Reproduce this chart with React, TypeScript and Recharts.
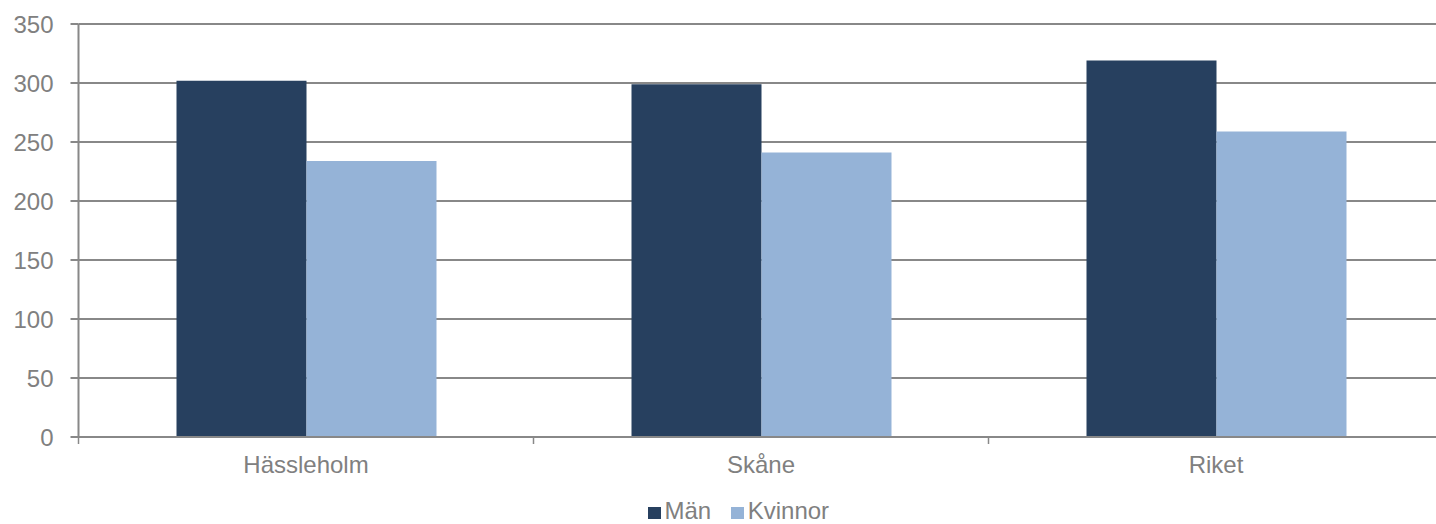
import React from 'react';
import { BarChart, Bar, XAxis, YAxis, CartesianGrid, Legend } from 'recharts';

const categories = ['Hässleholm', 'Skåne', 'Riket'];
const manValues = [302, 299, 319];
const kvinnorValues = [234, 241, 259];
const yTicks = [0, 50, 100, 150, 200, 250, 300, 350];
const boundaryTicks = [0, 1, 2, 3];
const seriesKeys = ['man', 'kvinnor'];
const seriesNames = ['Män', 'Kvinnor'];
const seriesColors = ['#27405F', '#95B3D7'];

const data = categories.map((c, i) => ({
  name: c,
  man: manValues[i],
  kvinnor: kvinnorValues[i],
  idx: i + 0.5,
}));

const FONT = '"Liberation Sans", Arial, sans-serif';
const TEXT = '#808080';
const LINE = '#888888';

const LegendContent = () => {
  return (
    <div style={{ fontFamily: FONT, fontSize: 24, lineHeight: '24px', color: TEXT, whiteSpace: 'nowrap' }}>
      {seriesNames.map((n, i) => (
        <span key={n} style={{ marginRight: i === 0 ? 20 : 0 }}>
          <span
            style={{
              display: 'inline-block',
              width: 12.5,
              height: 12.5,
              background: seriesColors[i],
              marginRight: 4,
              verticalAlign: 'baseline',
            }}
          />
          {n}
        </span>
      ))}
    </div>
  );
};

export default function App() {
  return (
    <div style={{ position: 'absolute', left: 0, top: 0, width: 1436, height: 524, overflow: 'hidden', background: '#fff' }}>
      <BarChart
        width={1443.5}
        height={524}
        data={data}
        margin={{ top: 24, right: 0, bottom: 0, left: 0 }}
        barGap={0}
      >
        <CartesianGrid vertical={false} stroke={LINE} strokeWidth={2} xAxisId="cat" />
        <XAxis
          xAxisId="bound"
          type="number"
          dataKey="idx"
          domain={[0, 3]}
          ticks={boundaryTicks}
          tickFormatter={() => ''}
          height={1}
          tickSize={7}
          axisLine={{ stroke: LINE, strokeWidth: 2 }}
          tickLine={{ stroke: LINE, strokeWidth: 1.5 }}
          interval={0}
          allowDataOverflow
        />
        <XAxis
          xAxisId="cat"
          dataKey="name"
          height={86}
          axisLine={false}
          tickLine={false}
          tickSize={0}
          tickMargin={18}
          tick={{ fill: TEXT, fontSize: 24, fontFamily: FONT }}
        />
        <YAxis
          domain={[0, 350]}
          ticks={yTicks}
          width={78.5}
          tickSize={8}
          tickMargin={17}
          axisLine={{ stroke: LINE, strokeWidth: 2 }}
          tickLine={{ stroke: LINE, strokeWidth: 2 }}
          tick={{ fill: TEXT, fontSize: 24, fontFamily: FONT }}
          interval={0}
        />
        <Legend
          layout="horizontal"
          verticalAlign="middle"
          align="center"
          content={<LegendContent />}
          wrapperStyle={{ top: 499, left: 648, width: 'auto' }}
        />
        {seriesKeys.map((k, i) => (
          <Bar
            key={k}
            xAxisId="cat"
            dataKey={k}
            name={seriesNames[i]}
            fill={seriesColors[i]}
            barSize={130}
            isAnimationActive={false}
          />
        ))}
      </BarChart>
    </div>
  );
}
